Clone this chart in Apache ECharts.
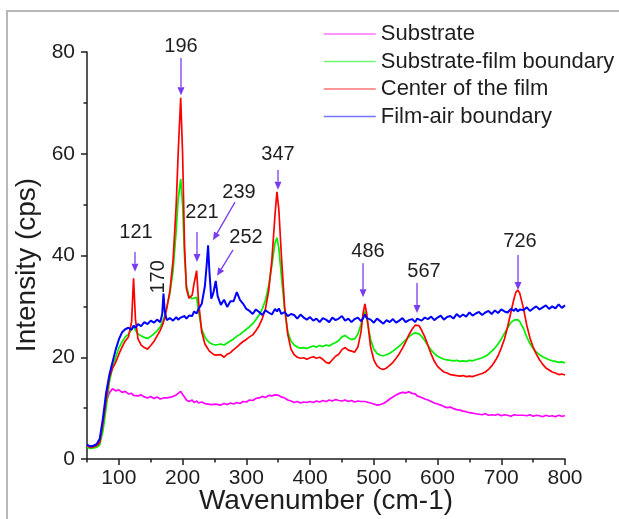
<!DOCTYPE html>
<html>
<head>
<meta charset="utf-8">
<script src="https://cdn.jsdelivr.net/npm/echarts@6/dist/echarts.min.js"></script>
<style>
html,body{margin:0;padding:0;background:#fff;}
#chart{width:619px;height:519px;}
</style>
</head>
<body>
<div id="chart"></div>
<script>
// ---- data ----
const wavenumber = [
  50,55,60,65,70,75,80,85,90,95,
  100,105,110,115,120,123,126,130,135,140,
  145,150,155,160,165,168,170,172,175,180,
  185,190,193,197,200,203,206,210,215,218,
  222,225,230,235,238,240,242,245,248,252,
  255,260,265,270,275,280,285,290,295,300,
  305,310,315,320,325,330,335,340,345,348,
  351,355,360,365,370,375,380,385,390,395,
  400,405,410,415,420,425,430,435,440,445,
  450,455,460,465,470,475,480,483,486,489,
  495,500,505,510,515,520,525,530,535,540,
  545,550,555,560,565,568,571,575,580,585,
  590,595,600,605,610,615,620,625,630,635,
  640,645,650,655,660,665,670,675,680,685,
  690,695,700,705,710,715,720,723,726,729,
  735,740,745,750,755,760,765,770,775,780,
  785,790,795,800
];
const substrate = [
  2.6,2.4,2.5,2.7,3.5,7.0,11.2,13.0,13.8,13.4,
  13.6,13.1,13.3,12.8,12.9,12.5,12.8,12.4,12.6,12.2,
  12.0,12.3,11.9,12.2,11.8,12.1,12.0,11.7,12.0,12.1,
  12.3,12.6,12.9,13.3,12.7,12.2,11.6,11.3,11.6,11.1,
  11.4,11.0,11.2,10.9,11.1,10.8,11.0,10.7,11.0,10.8,
  10.9,10.6,10.9,10.7,11.0,10.8,11.1,10.9,11.3,11.2,
  11.6,11.5,11.9,12.0,12.3,12.1,12.5,12.4,12.6,12.3,
  12.5,12.2,12.0,11.6,11.4,11.1,11.3,11.0,11.2,11.1,
  11.3,11.1,11.4,11.2,11.5,11.3,11.6,11.4,11.7,11.5,
  11.4,11.6,11.3,11.5,11.2,11.4,11.3,11.1,11.3,11.2,
  11.0,10.8,10.6,10.7,10.9,11.3,11.8,12.2,12.6,12.9,
  13.1,13.0,13.2,12.9,12.8,12.4,12.5,12.1,11.8,11.6,
  11.3,11.0,10.8,10.6,10.3,10.1,10.2,9.9,9.7,9.6,
  9.4,9.3,9.1,9.0,8.9,8.8,8.7,8.9,8.6,8.7,
  8.6,8.8,8.5,8.7,8.6,8.4,8.7,8.5,8.6,8.4,
  8.6,8.5,8.7,8.4,8.6,8.5,8.3,8.6,8.4,8.5,
  8.3,8.6,8.4,8.5
];
const substrateFilm = [
  2.3,2.1,2.2,2.3,2.8,5.5,10.0,15.0,18.0,20.0,
  21.8,23.0,24.0,24.5,25.5,26.2,25.3,24.6,24.2,23.9,
  23.7,24.1,24.6,25.2,26.0,26.8,27.5,28.2,29.8,32.5,
  37.0,45.0,51.0,55.0,50.0,40.0,34.0,32.0,31.5,31.5,
  31.8,29.0,25.5,24.0,23.4,23.1,22.9,22.7,22.5,22.4,
  22.3,22.6,22.4,22.8,23.2,23.6,24.1,24.5,25.0,25.5,
  26.0,26.6,27.4,28.3,29.5,31.2,34.0,38.0,42.5,43.5,
  41.5,36.0,29.5,25.0,23.2,22.4,22.0,21.8,21.9,21.7,
  22.0,22.2,22.0,22.3,22.1,22.4,22.2,22.6,22.9,23.3,
  24.0,24.3,23.8,23.5,23.6,24.5,26.5,28.0,29.0,27.5,
  23.5,21.6,20.8,20.4,20.3,20.5,20.8,21.2,21.7,22.2,
  22.8,23.4,24.0,24.5,24.8,24.9,24.6,24.1,23.3,22.3,
  21.4,20.7,20.2,19.9,19.6,19.5,19.4,19.3,19.4,19.2,
  19.3,19.2,19.4,19.3,19.5,19.7,19.9,20.2,20.6,21.2,
  21.8,22.6,23.6,24.7,25.8,26.8,27.3,27.5,27.4,27.0,
  25.6,24.0,22.7,21.7,21.0,20.5,20.1,19.8,19.5,19.3,
  19.2,19.0,19.1,18.9
];
const centerFilm = [
  2.6,2.3,2.4,2.6,3.2,7.0,11.5,16.0,17.8,19.0,
  20.6,22.0,23.2,24.0,27.0,35.5,27.5,23.6,22.4,21.9,
  21.6,22.3,23.1,24.2,25.3,26.2,26.9,27.8,29.5,33.0,
  39.0,50.0,60.0,71.0,60.0,42.0,33.5,31.6,32.2,34.5,
  37.0,31.0,25.0,22.6,22.0,21.6,21.2,20.9,20.6,20.4,
  20.2,20.5,20.0,20.6,20.9,21.5,22.0,22.6,23.1,23.5,
  24.0,24.4,25.2,26.2,27.6,29.5,33.0,39.0,48.0,52.5,
  49.0,40.0,30.0,24.5,21.6,20.5,20.0,19.8,19.9,19.6,
  19.9,20.1,19.8,20.0,19.6,19.0,18.8,19.5,20.2,20.6,
  21.5,21.9,21.4,21.2,21.0,22.0,25.0,28.5,30.5,28.5,
  22.0,19.5,18.3,17.8,17.6,17.9,18.4,19.0,19.8,20.7,
  21.8,23.0,24.4,25.5,26.3,26.5,26.2,25.3,24.0,22.3,
  20.6,19.2,18.2,17.6,17.1,16.9,16.6,16.5,16.4,16.3,
  16.4,16.2,16.3,16.2,16.4,16.6,16.8,17.1,17.6,18.3,
  19.2,20.3,21.8,23.6,26.0,28.8,31.5,32.8,33.2,32.6,
  29.5,26.3,23.8,22.0,20.6,19.5,18.6,17.9,17.5,17.1,
  16.9,16.6,16.7,16.5
];
const filmAir = [
  2.8,2.5,2.6,2.9,4.0,8.0,13.0,16.5,19.0,21.5,
  23.5,24.9,25.5,25.8,25.4,26.2,25.8,26.5,26.1,26.9,
  26.5,27.2,26.8,27.4,26.9,28.5,32.5,29.0,27.3,27.7,
  27.2,27.9,27.4,27.8,27.5,28.1,27.6,28.2,28.1,29.0,
  28.6,29.5,30.5,34.0,38.5,42.0,37.0,31.5,32.5,35.0,
  32.0,30.3,31.3,29.9,31.0,31.0,32.8,31.3,30.5,29.5,
  29.1,28.5,29.4,28.9,28.3,29.2,28.8,28.4,29.5,29.0,
  29.6,28.5,28.9,28.1,28.5,28.3,27.6,28.4,27.8,27.4,
  27.9,27.2,27.6,26.9,27.7,27.4,26.9,27.8,27.3,27.6,
  28.1,27.2,27.6,26.9,27.5,27.8,27.1,27.6,28.4,27.7,
  27.4,26.8,27.6,27.1,26.6,27.3,26.9,27.5,26.8,27.2,
  27.7,26.9,27.3,27.5,26.9,27.6,27.9,27.2,27.8,27.5,
  28.0,27.3,27.8,28.2,27.4,27.9,28.1,27.6,28.5,27.9,
  28.4,28.0,28.8,28.2,28.6,28.9,28.3,28.8,29.1,28.5,
  29.2,28.7,29.4,29.0,28.8,29.5,29.1,29.6,29.0,29.4,
  29.3,29.8,29.1,29.6,30.0,29.4,29.8,30.2,29.5,30.0,
  29.6,30.4,29.7,30.2
];
const seriesNames = ['Substrate', 'Substrate-film boundary', 'Center of the film', 'Film-air boundary'];
const xTickValues = [100, 200, 300, 400, 500, 600, 700, 800];
const xMinorTickValues = [50, 150, 250, 350, 450, 550, 650, 750];
// peak labels: text, anchor (data coords), arrow start/end (data coords)
const peakLabels = ['196', '347', '121', '221', '239', '252', '170', '486', '567', '726'];
const labelAnchors = [
  [197.5, 81.0], [349.7, 59.8], [126.9, 44.6], [230.4, 48.4], [288.5, 52.3],
  [299.5, 43.6], [161.4, 35.8], [490.9, 40.7], [578.8, 36.8], [729.4, 42.7]
];
const arrowStarts = [
  [197.5, 78.8], [349.7, 56.8], [125.3, 40.7], [222.6, 44.6], [282.2, 50.5],
  [279.1, 41.1], null, [483.1, 38.5], [567.8, 34.6], [726.3, 40.1]
];
const arrowEnds = [
  [197.5, 71.5], [349.7, 52.9], [125.3, 36.8], [222.6, 38.7], [247.7, 43.0],
  [254.0, 36.0], null, [483.1, 31.8], [567.8, 28.7], [726.3, 33.2]
];
const rotatedLabels = ['170'];

// ---- chart ----
const FONT = '"Liberation Sans", Arial, sans-serif';
const INK = '#1e1e1e';
const colors = ['#ff00ff', '#00ee00', '#ff0000', '#0000ff'];
const values = [substrate, substrateFilm, centerFilm, filmAir];

const chart = echarts.init(document.getElementById('chart'), null, {renderer: 'canvas'});

const axisLineStyle = {color: INK, width: 1.5};

const baseGraphics = [
  {type: 'rect', shape: {x: 7, y: 11, width: 700, height: 600}, style: {fill: 'none', stroke: '#b8b8b8', lineWidth: 2}, silent: true},
  {type: 'text', x: 326, y: 501, style: {text: 'Wavenumber (cm-1)', font: '28px ' + FONT, fill: INK, align: 'center', verticalAlign: 'middle'}},
  {type: 'text', x: 27, y: 265, rotation: Math.PI / 2, style: {text: 'Intensity (cps)', font: '28px ' + FONT, fill: INK, align: 'center', verticalAlign: 'middle'}}
];

const option = {
  animation: false,
  backgroundColor: '#ffffff',
  grid: {left: 87, right: 54, top: 52, bottom: 60, containLabel: false},
  legend: {
    data: seriesNames,
    orient: 'vertical',
    left: 318,
    top: 18,
    itemWidth: 52,
    itemHeight: 14,
    itemGap: 5.5,
    textStyle: {fontFamily: FONT, fontSize: 22, color: INK, lineHeight: 22},
    itemStyle: {opacity: 0},
    lineStyle: {width: 1.5, opacity: 0.55},
    selectedMode: false
  },
  xAxis: [
    {
      type: 'value', min: 50, max: 800,
      axisLine: {lineStyle: axisLineStyle},
      axisTick: {customValues: xTickValues, length: 6, lineStyle: axisLineStyle},
      axisLabel: {customValues: xTickValues, fontFamily: FONT, fontSize: 21, color: INK, margin: 9},
      splitLine: {show: false}
    },
    {
      type: 'value', min: 50, max: 800, position: 'bottom',
      axisLine: {show: false},
      axisTick: {customValues: xMinorTickValues, length: 3.5, lineStyle: axisLineStyle},
      axisLabel: {show: false},
      splitLine: {show: false}
    }
  ],
  yAxis: {
    type: 'value', min: 0, max: 80, interval: 20,
    axisLine: {show: true, lineStyle: axisLineStyle},
    axisTick: {show: true, length: 6, lineStyle: axisLineStyle},
    minorTick: {show: true, splitNumber: 2, length: 3.5, lineStyle: axisLineStyle},
    axisLabel: {fontFamily: FONT, fontSize: 21, color: INK, margin: 12},
    splitLine: {show: false}
  },
  series: seriesNames.map((name, k) => ({
    name: name,
    type: 'line',
    xAxisIndex: 0,
    yAxisIndex: 0,
    symbol: 'none',
    color: colors[k],
    lineStyle: {width: k === 3 ? 2 : 1.7, color: colors[k]},
    z: 2 + k,
    data: wavenumber.map((w, i) => [w, values[k][i]])
  })),
  graphic: baseGraphics
};

chart.setOption(option);

// annotations positioned through the chart's own scales
const ARROW = '#7a3cf0';
const annot = [];
peakLabels.forEach((lab, i) => {
  const p = chart.convertToPixel({gridIndex: 0}, labelAnchors[i]);
  const rot = rotatedLabels.indexOf(lab) >= 0;
  annot.push({
    type: 'text', x: p[0], y: p[1], rotation: rot ? Math.PI / 2 : 0,
    style: {text: lab, font: '20px ' + FONT, fill: INK, align: 'center', verticalAlign: 'middle'}
  });
  if (arrowStarts[i] && arrowEnds[i]) {
    const a = chart.convertToPixel({gridIndex: 0}, arrowStarts[i]);
    const b = chart.convertToPixel({gridIndex: 0}, arrowEnds[i]);
    const dx = b[0] - a[0], dy = b[1] - a[1];
    const len = Math.sqrt(dx * dx + dy * dy);
    const ux = dx / len, uy = dy / len;
    const hl = 8, hw = 3.5;
    const bx = b[0] - ux * hl, by = b[1] - uy * hl;
    annot.push({
      type: 'line', shape: {x1: a[0], y1: a[1], x2: bx, y2: by},
      style: {stroke: ARROW, lineWidth: 1.3}, z: 20
    });
    annot.push({
      type: 'polygon',
      shape: {points: [[b[0], b[1]], [bx - uy * hw, by + ux * hw], [bx + uy * hw, by - ux * hw]]},
      style: {fill: ARROW}, z: 20
    });
  }
});
chart.setOption({graphic: baseGraphics.concat(annot)}, {replaceMerge: ['graphic']});
</script>
</body>
</html>
